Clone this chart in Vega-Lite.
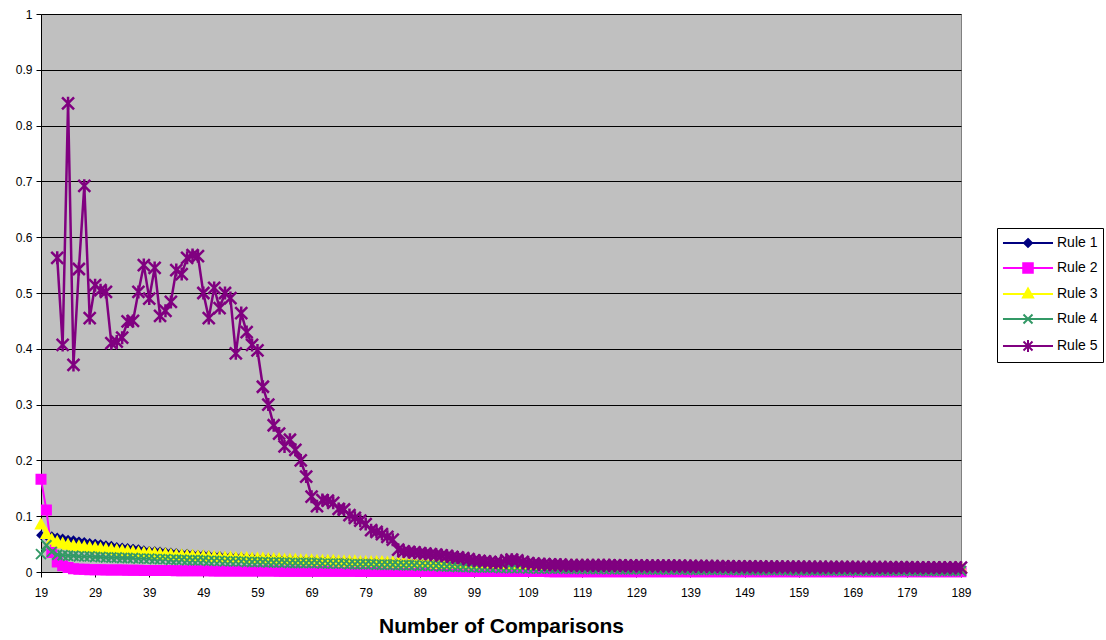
{
  "$schema": "https://vega.github.io/schema/vega-lite/v6.json",
  "width": 920,
  "height": 558,
  "autosize": {"type": "none"},
  "padding": {"left": 41, "top": 14, "right": 145, "bottom": 68},
  "background": "white",
  "config": {
    "font": "Liberation Sans",
    "view": {"fill": "#C0C0C0", "stroke": "#808080", "strokeWidth": 1},
    "axis": {
      "labelFont": "Liberation Sans", "labelColor": "black", "labelFontSize": 12,
      "tickColor": "black", "tickSize": 5, "domainColor": "black", "domainWidth": 1,
      "gridColor": "black", "gridOpacity": 1, "gridWidth": 1,
      "titleColor": "black", "titleFont": "Liberation Sans"
    },
    "legend": {
      "title": null, "orient": "none", "legendX": 956, "legendY": 214,
      "strokeColor": "black", "fillColor": "white", "padding": 5, "rowPadding": 7,
      "labelFont": "Liberation Sans", "labelFontSize": 14, "labelColor": "black",
      "labelOffset": 19, "symbolOffset": 16,
      "symbolSize": 324, "symbolStrokeWidth": 2
    }
  },
  "data": {
    "values": [
      {"n":19,"Rule 1":0.066,"Rule 2":0.166,"Rule 3":0.085,"Rule 4":0.032,"Rule 5":null},
      {"n":20,"Rule 1":0.065,"Rule 2":0.111,"Rule 3":0.068,"Rule 4":0.048,"Rule 5":null},
      {"n":21,"Rule 1":0.064,"Rule 2":0.035,"Rule 3":0.058,"Rule 4":0.036,"Rule 5":null},
      {"n":22,"Rule 1":0.062,"Rule 2":0.018,"Rule 3":0.054,"Rule 4":0.031,"Rule 5":0.563},
      {"n":23,"Rule 1":0.060,"Rule 2":0.011,"Rule 3":0.051,"Rule 4":0.030,"Rule 5":0.407},
      {"n":24,"Rule 1":0.058,"Rule 2":0.008,"Rule 3":0.049,"Rule 4":0.029,"Rule 5":0.840},
      {"n":25,"Rule 1":0.057,"Rule 2":0.006,"Rule 3":0.047,"Rule 4":0.029,"Rule 5":0.371},
      {"n":26,"Rule 1":0.055,"Rule 2":0.005,"Rule 3":0.046,"Rule 4":0.028,"Rule 5":0.543},
      {"n":27,"Rule 1":0.054,"Rule 2":0.005,"Rule 3":0.045,"Rule 4":0.028,"Rule 5":0.692},
      {"n":28,"Rule 1":0.052,"Rule 2":0.004,"Rule 3":0.044,"Rule 4":0.028,"Rule 5":0.455},
      {"n":29,"Rule 1":0.051,"Rule 2":0.004,"Rule 3":0.043,"Rule 4":0.027,"Rule 5":0.514},
      {"n":30,"Rule 1":0.050,"Rule 2":0.004,"Rule 3":0.042,"Rule 4":0.027,"Rule 5":0.505},
      {"n":31,"Rule 1":0.048,"Rule 2":0.0038,"Rule 3":0.041,"Rule 4":0.026,"Rule 5":0.502},
      {"n":32,"Rule 1":0.047,"Rule 2":0.0036,"Rule 3":0.040,"Rule 4":0.026,"Rule 5":0.410},
      {"n":33,"Rule 1":0.045,"Rule 2":0.0035,"Rule 3":0.039,"Rule 4":0.026,"Rule 5":0.413},
      {"n":34,"Rule 1":0.044,"Rule 2":0.0034,"Rule 3":0.038,"Rule 4":0.025,"Rule 5":0.420},
      {"n":35,"Rule 1":0.043,"Rule 2":0.0033,"Rule 3":0.037,"Rule 4":0.025,"Rule 5":0.449},
      {"n":36,"Rule 1":0.042,"Rule 2":0.0032,"Rule 3":0.036,"Rule 4":0.025,"Rule 5":0.450},
      {"n":37,"Rule 1":0.041,"Rule 2":0.0030,"Rule 3":0.035,"Rule 4":0.024,"Rule 5":0.502},
      {"n":38,"Rule 1":0.039,"Rule 2":0.0029,"Rule 3":0.034,"Rule 4":0.024,"Rule 5":0.550},
      {"n":39,"Rule 1":0.038,"Rule 2":0.0028,"Rule 3":0.034,"Rule 4":0.024,"Rule 5":0.490},
      {"n":40,"Rule 1":0.0375,"Rule 2":0.0027,"Rule 3":0.033,"Rule 4":0.023,"Rule 5":0.545},
      {"n":41,"Rule 1":0.037,"Rule 2":0.0026,"Rule 3":0.032,"Rule 4":0.023,"Rule 5":0.459},
      {"n":42,"Rule 1":0.036,"Rule 2":0.0025,"Rule 3":0.032,"Rule 4":0.023,"Rule 5":0.468},
      {"n":43,"Rule 1":0.035,"Rule 2":0.0025,"Rule 3":0.031,"Rule 4":0.022,"Rule 5":0.484},
      {"n":44,"Rule 1":0.034,"Rule 2":0.0024,"Rule 3":0.030,"Rule 4":0.022,"Rule 5":0.541},
      {"n":45,"Rule 1":0.033,"Rule 2":0.0023,"Rule 3":0.030,"Rule 4":0.022,"Rule 5":0.534},
      {"n":46,"Rule 1":0.033,"Rule 2":0.0023,"Rule 3":0.029,"Rule 4":0.021,"Rule 5":0.563},
      {"n":47,"Rule 1":0.032,"Rule 2":0.0022,"Rule 3":0.029,"Rule 4":0.021,"Rule 5":0.568},
      {"n":48,"Rule 1":0.031,"Rule 2":0.0022,"Rule 3":0.028,"Rule 4":0.021,"Rule 5":0.566},
      {"n":49,"Rule 1":0.031,"Rule 2":0.0021,"Rule 3":0.028,"Rule 4":0.021,"Rule 5":0.500},
      {"n":50,"Rule 1":0.030,"Rule 2":0.0021,"Rule 3":0.027,"Rule 4":0.020,"Rule 5":0.455},
      {"n":51,"Rule 1":0.029,"Rule 2":0.0020,"Rule 3":0.027,"Rule 4":0.020,"Rule 5":0.509},
      {"n":52,"Rule 1":0.029,"Rule 2":0.0020,"Rule 3":0.026,"Rule 4":0.020,"Rule 5":0.473},
      {"n":53,"Rule 1":0.028,"Rule 2":0.0019,"Rule 3":0.026,"Rule 4":0.019,"Rule 5":0.500},
      {"n":54,"Rule 1":0.028,"Rule 2":0.0019,"Rule 3":0.026,"Rule 4":0.019,"Rule 5":0.491},
      {"n":55,"Rule 1":0.027,"Rule 2":0.0018,"Rule 3":0.025,"Rule 4":0.019,"Rule 5":0.392},
      {"n":56,"Rule 1":0.027,"Rule 2":0.0018,"Rule 3":0.025,"Rule 4":0.019,"Rule 5":0.464},
      {"n":57,"Rule 1":0.026,"Rule 2":0.0018,"Rule 3":0.025,"Rule 4":0.018,"Rule 5":0.430},
      {"n":58,"Rule 1":0.026,"Rule 2":0.0017,"Rule 3":0.024,"Rule 4":0.018,"Rule 5":0.407},
      {"n":59,"Rule 1":0.025,"Rule 2":0.0017,"Rule 3":0.024,"Rule 4":0.018,"Rule 5":0.397},
      {"n":60,"Rule 1":0.025,"Rule 2":0.0016,"Rule 3":0.024,"Rule 4":0.018,"Rule 5":0.332},
      {"n":61,"Rule 1":0.025,"Rule 2":0.0016,"Rule 3":0.023,"Rule 4":0.017,"Rule 5":0.300},
      {"n":62,"Rule 1":0.024,"Rule 2":0.0016,"Rule 3":0.023,"Rule 4":0.017,"Rule 5":0.263},
      {"n":63,"Rule 1":0.024,"Rule 2":0.0015,"Rule 3":0.023,"Rule 4":0.017,"Rule 5":0.248},
      {"n":64,"Rule 1":0.023,"Rule 2":0.0015,"Rule 3":0.022,"Rule 4":0.017,"Rule 5":0.225},
      {"n":65,"Rule 1":0.023,"Rule 2":0.0015,"Rule 3":0.022,"Rule 4":0.016,"Rule 5":0.237},
      {"n":66,"Rule 1":0.023,"Rule 2":0.0014,"Rule 3":0.022,"Rule 4":0.016,"Rule 5":0.219},
      {"n":67,"Rule 1":0.022,"Rule 2":0.0014,"Rule 3":0.021,"Rule 4":0.016,"Rule 5":0.200},
      {"n":68,"Rule 1":0.022,"Rule 2":0.0014,"Rule 3":0.021,"Rule 4":0.016,"Rule 5":0.171},
      {"n":69,"Rule 1":0.022,"Rule 2":0.0013,"Rule 3":0.021,"Rule 4":0.016,"Rule 5":0.135},
      {"n":70,"Rule 1":0.021,"Rule 2":0.0013,"Rule 3":0.020,"Rule 4":0.016,"Rule 5":0.118},
      {"n":71,"Rule 1":0.021,"Rule 2":0.0013,"Rule 3":0.020,"Rule 4":0.015,"Rule 5":0.129},
      {"n":72,"Rule 1":0.021,"Rule 2":0.0013,"Rule 3":0.020,"Rule 4":0.015,"Rule 5":0.128},
      {"n":73,"Rule 1":0.021,"Rule 2":0.0012,"Rule 3":0.020,"Rule 4":0.015,"Rule 5":0.124},
      {"n":74,"Rule 1":0.020,"Rule 2":0.0012,"Rule 3":0.019,"Rule 4":0.015,"Rule 5":0.113},
      {"n":75,"Rule 1":0.020,"Rule 2":0.0012,"Rule 3":0.019,"Rule 4":0.015,"Rule 5":0.112},
      {"n":76,"Rule 1":0.020,"Rule 2":0.0012,"Rule 3":0.019,"Rule 4":0.014,"Rule 5":0.102},
      {"n":77,"Rule 1":0.019,"Rule 2":0.0012,"Rule 3":0.019,"Rule 4":0.014,"Rule 5":0.097},
      {"n":78,"Rule 1":0.019,"Rule 2":0.0011,"Rule 3":0.018,"Rule 4":0.014,"Rule 5":0.092},
      {"n":79,"Rule 1":0.019,"Rule 2":0.0011,"Rule 3":0.018,"Rule 4":0.014,"Rule 5":0.086},
      {"n":80,"Rule 1":0.019,"Rule 2":0.0011,"Rule 3":0.018,"Rule 4":0.014,"Rule 5":0.075},
      {"n":81,"Rule 1":0.019,"Rule 2":0.0011,"Rule 3":0.018,"Rule 4":0.013,"Rule 5":0.072},
      {"n":82,"Rule 1":0.018,"Rule 2":0.0011,"Rule 3":0.018,"Rule 4":0.013,"Rule 5":0.068},
      {"n":83,"Rule 1":0.018,"Rule 2":0.0010,"Rule 3":0.017,"Rule 4":0.013,"Rule 5":0.063},
      {"n":84,"Rule 1":0.018,"Rule 2":0.0010,"Rule 3":0.017,"Rule 4":0.013,"Rule 5":0.058},
      {"n":85,"Rule 1":0.018,"Rule 2":0.0010,"Rule 3":0.017,"Rule 4":0.012,"Rule 5":0.040},
      {"n":86,"Rule 1":0.017,"Rule 2":0.0010,"Rule 3":0.017,"Rule 4":0.012,"Rule 5":0.037},
      {"n":87,"Rule 1":0.017,"Rule 2":0.0010,"Rule 3":0.016,"Rule 4":0.012,"Rule 5":0.036},
      {"n":88,"Rule 1":0.017,"Rule 2":0.0010,"Rule 3":0.016,"Rule 4":0.012,"Rule 5":0.035},
      {"n":89,"Rule 1":0.017,"Rule 2":0.0009,"Rule 3":0.016,"Rule 4":0.011,"Rule 5":0.034},
      {"n":90,"Rule 1":0.017,"Rule 2":0.0009,"Rule 3":0.016,"Rule 4":0.011,"Rule 5":0.033},
      {"n":91,"Rule 1":0.016,"Rule 2":0.0009,"Rule 3":0.016,"Rule 4":0.011,"Rule 5":0.032},
      {"n":92,"Rule 1":0.016,"Rule 2":0.0009,"Rule 3":0.015,"Rule 4":0.011,"Rule 5":0.031},
      {"n":93,"Rule 1":0.016,"Rule 2":0.0009,"Rule 3":0.015,"Rule 4":0.010,"Rule 5":0.030},
      {"n":94,"Rule 1":0.016,"Rule 2":0.0009,"Rule 3":0.015,"Rule 4":0.010,"Rule 5":0.029},
      {"n":95,"Rule 1":0.016,"Rule 2":0.0009,"Rule 3":0.015,"Rule 4":0.010,"Rule 5":0.027},
      {"n":96,"Rule 1":0.016,"Rule 2":0.0008,"Rule 3":0.015,"Rule 4":0.009,"Rule 5":0.026},
      {"n":97,"Rule 1":0.015,"Rule 2":0.0008,"Rule 3":0.015,"Rule 4":0.009,"Rule 5":0.025},
      {"n":98,"Rule 1":0.015,"Rule 2":0.0008,"Rule 3":0.014,"Rule 4":0.009,"Rule 5":0.023},
      {"n":99,"Rule 1":0.015,"Rule 2":0.0008,"Rule 3":0.014,"Rule 4":0.008,"Rule 5":0.021},
      {"n":100,"Rule 1":0.015,"Rule 2":0.0008,"Rule 3":0.014,"Rule 4":0.008,"Rule 5":0.020},
      {"n":101,"Rule 1":0.015,"Rule 2":0.0008,"Rule 3":0.014,"Rule 4":0.008,"Rule 5":0.019},
      {"n":102,"Rule 1":0.015,"Rule 2":0.0008,"Rule 3":0.014,"Rule 4":0.008,"Rule 5":0.018},
      {"n":103,"Rule 1":0.015,"Rule 2":0.0008,"Rule 3":0.014,"Rule 4":0.008,"Rule 5":0.017},
      {"n":104,"Rule 1":0.014,"Rule 2":0.0007,"Rule 3":0.014,"Rule 4":0.007,"Rule 5":0.017},
      {"n":105,"Rule 1":0.014,"Rule 2":0.0007,"Rule 3":0.013,"Rule 4":0.007,"Rule 5":0.021},
      {"n":106,"Rule 1":0.014,"Rule 2":0.0007,"Rule 3":0.013,"Rule 4":0.007,"Rule 5":0.022},
      {"n":107,"Rule 1":0.014,"Rule 2":0.0007,"Rule 3":0.013,"Rule 4":0.007,"Rule 5":0.021},
      {"n":108,"Rule 1":0.014,"Rule 2":0.0007,"Rule 3":0.013,"Rule 4":0.007,"Rule 5":0.018},
      {"n":109,"Rule 1":0.014,"Rule 2":0.0007,"Rule 3":0.013,"Rule 4":0.006,"Rule 5":0.016},
      {"n":110,"Rule 1":0.014,"Rule 2":0.0007,"Rule 3":0.013,"Rule 4":0.006,"Rule 5":0.015},
      {"n":111,"Rule 1":0.0135,"Rule 2":0.0007,"Rule 3":0.013,"Rule 4":0.006,"Rule 5":0.014},
      {"n":112,"Rule 1":0.0134,"Rule 2":0.0007,"Rule 3":0.013,"Rule 4":0.006,"Rule 5":0.014},
      {"n":113,"Rule 1":0.0133,"Rule 2":0.0006,"Rule 3":0.013,"Rule 4":0.006,"Rule 5":0.013},
      {"n":114,"Rule 1":0.0132,"Rule 2":0.0006,"Rule 3":0.012,"Rule 4":0.006,"Rule 5":0.013},
      {"n":115,"Rule 1":0.0130,"Rule 2":0.0006,"Rule 3":0.012,"Rule 4":0.006,"Rule 5":0.013},
      {"n":116,"Rule 1":0.0129,"Rule 2":0.0006,"Rule 3":0.012,"Rule 4":0.0058,"Rule 5":0.012},
      {"n":117,"Rule 1":0.0128,"Rule 2":0.0006,"Rule 3":0.012,"Rule 4":0.0057,"Rule 5":0.012},
      {"n":118,"Rule 1":0.0127,"Rule 2":0.0006,"Rule 3":0.012,"Rule 4":0.0056,"Rule 5":0.012},
      {"n":119,"Rule 1":0.0126,"Rule 2":0.0006,"Rule 3":0.0119,"Rule 4":0.0055,"Rule 5":0.012},
      {"n":120,"Rule 1":0.0125,"Rule 2":0.0006,"Rule 3":0.0118,"Rule 4":0.0054,"Rule 5":0.012},
      {"n":121,"Rule 1":0.0124,"Rule 2":0.0006,"Rule 3":0.0117,"Rule 4":0.0053,"Rule 5":0.012},
      {"n":122,"Rule 1":0.0123,"Rule 2":0.0006,"Rule 3":0.0116,"Rule 4":0.0053,"Rule 5":0.012},
      {"n":123,"Rule 1":0.0122,"Rule 2":0.0005,"Rule 3":0.0115,"Rule 4":0.0052,"Rule 5":0.012},
      {"n":124,"Rule 1":0.0121,"Rule 2":0.0005,"Rule 3":0.0114,"Rule 4":0.0051,"Rule 5":0.012},
      {"n":125,"Rule 1":0.0120,"Rule 2":0.0005,"Rule 3":0.0113,"Rule 4":0.0050,"Rule 5":0.0118},
      {"n":126,"Rule 1":0.0119,"Rule 2":0.0005,"Rule 3":0.0112,"Rule 4":0.0050,"Rule 5":0.0116},
      {"n":127,"Rule 1":0.0118,"Rule 2":0.0005,"Rule 3":0.0111,"Rule 4":0.0049,"Rule 5":0.0115},
      {"n":128,"Rule 1":0.0117,"Rule 2":0.0005,"Rule 3":0.0110,"Rule 4":0.0048,"Rule 5":0.0114},
      {"n":129,"Rule 1":0.0116,"Rule 2":0.0005,"Rule 3":0.0109,"Rule 4":0.0048,"Rule 5":0.0113},
      {"n":130,"Rule 1":0.0115,"Rule 2":0.0005,"Rule 3":0.0108,"Rule 4":0.0047,"Rule 5":0.0112},
      {"n":131,"Rule 1":0.0115,"Rule 2":0.0005,"Rule 3":0.0108,"Rule 4":0.0046,"Rule 5":0.0111},
      {"n":132,"Rule 1":0.0114,"Rule 2":0.0005,"Rule 3":0.0107,"Rule 4":0.0046,"Rule 5":0.0110},
      {"n":133,"Rule 1":0.0113,"Rule 2":0.0005,"Rule 3":0.0106,"Rule 4":0.0045,"Rule 5":0.0110},
      {"n":134,"Rule 1":0.0112,"Rule 2":0.0005,"Rule 3":0.0105,"Rule 4":0.0044,"Rule 5":0.0110},
      {"n":135,"Rule 1":0.0111,"Rule 2":0.0005,"Rule 3":0.0104,"Rule 4":0.0044,"Rule 5":0.0110},
      {"n":136,"Rule 1":0.0110,"Rule 2":0.0005,"Rule 3":0.0103,"Rule 4":0.0043,"Rule 5":0.0110},
      {"n":137,"Rule 1":0.0109,"Rule 2":0.0005,"Rule 3":0.0102,"Rule 4":0.0043,"Rule 5":0.0108},
      {"n":138,"Rule 1":0.0109,"Rule 2":0.0004,"Rule 3":0.0102,"Rule 4":0.0042,"Rule 5":0.0107},
      {"n":139,"Rule 1":0.0108,"Rule 2":0.0004,"Rule 3":0.0101,"Rule 4":0.0041,"Rule 5":0.0106},
      {"n":140,"Rule 1":0.0107,"Rule 2":0.0004,"Rule 3":0.0100,"Rule 4":0.0041,"Rule 5":0.0105},
      {"n":141,"Rule 1":0.0106,"Rule 2":0.0004,"Rule 3":0.0099,"Rule 4":0.0040,"Rule 5":0.0104},
      {"n":142,"Rule 1":0.0106,"Rule 2":0.0004,"Rule 3":0.0099,"Rule 4":0.0040,"Rule 5":0.0103},
      {"n":143,"Rule 1":0.0105,"Rule 2":0.0004,"Rule 3":0.0098,"Rule 4":0.0039,"Rule 5":0.0102},
      {"n":144,"Rule 1":0.0104,"Rule 2":0.0004,"Rule 3":0.0097,"Rule 4":0.0039,"Rule 5":0.0101},
      {"n":145,"Rule 1":0.0103,"Rule 2":0.0004,"Rule 3":0.0096,"Rule 4":0.0038,"Rule 5":0.0100},
      {"n":146,"Rule 1":0.0103,"Rule 2":0.0004,"Rule 3":0.0096,"Rule 4":0.0038,"Rule 5":0.0099},
      {"n":147,"Rule 1":0.0102,"Rule 2":0.0004,"Rule 3":0.0095,"Rule 4":0.0037,"Rule 5":0.0098},
      {"n":148,"Rule 1":0.0101,"Rule 2":0.0004,"Rule 3":0.0094,"Rule 4":0.0037,"Rule 5":0.0097},
      {"n":149,"Rule 1":0.0101,"Rule 2":0.0004,"Rule 3":0.0094,"Rule 4":0.0036,"Rule 5":0.0096},
      {"n":150,"Rule 1":0.0100,"Rule 2":0.0004,"Rule 3":0.0093,"Rule 4":0.0036,"Rule 5":0.0095},
      {"n":151,"Rule 1":0.0099,"Rule 2":0.0004,"Rule 3":0.0092,"Rule 4":0.0035,"Rule 5":0.0094},
      {"n":152,"Rule 1":0.0099,"Rule 2":0.0004,"Rule 3":0.0092,"Rule 4":0.0035,"Rule 5":0.0094},
      {"n":153,"Rule 1":0.0098,"Rule 2":0.0004,"Rule 3":0.0091,"Rule 4":0.0034,"Rule 5":0.0093},
      {"n":154,"Rule 1":0.0097,"Rule 2":0.0004,"Rule 3":0.0090,"Rule 4":0.0034,"Rule 5":0.0093},
      {"n":155,"Rule 1":0.0097,"Rule 2":0.0004,"Rule 3":0.0090,"Rule 4":0.0033,"Rule 5":0.0092},
      {"n":156,"Rule 1":0.0096,"Rule 2":0.0004,"Rule 3":0.0089,"Rule 4":0.0033,"Rule 5":0.0092},
      {"n":157,"Rule 1":0.0096,"Rule 2":0.0004,"Rule 3":0.0089,"Rule 4":0.0032,"Rule 5":0.0091},
      {"n":158,"Rule 1":0.0095,"Rule 2":0.0004,"Rule 3":0.0088,"Rule 4":0.0032,"Rule 5":0.0091},
      {"n":159,"Rule 1":0.0094,"Rule 2":0.0003,"Rule 3":0.0087,"Rule 4":0.0031,"Rule 5":0.0090},
      {"n":160,"Rule 1":0.0094,"Rule 2":0.0003,"Rule 3":0.0087,"Rule 4":0.0031,"Rule 5":0.0090},
      {"n":161,"Rule 1":0.0093,"Rule 2":0.0003,"Rule 3":0.0086,"Rule 4":0.0030,"Rule 5":0.0089},
      {"n":162,"Rule 1":0.0093,"Rule 2":0.0003,"Rule 3":0.0086,"Rule 4":0.0030,"Rule 5":0.0089},
      {"n":163,"Rule 1":0.0092,"Rule 2":0.0003,"Rule 3":0.0085,"Rule 4":0.0030,"Rule 5":0.0088},
      {"n":164,"Rule 1":0.0091,"Rule 2":0.0003,"Rule 3":0.0084,"Rule 4":0.0029,"Rule 5":0.0088},
      {"n":165,"Rule 1":0.0091,"Rule 2":0.0003,"Rule 3":0.0084,"Rule 4":0.0029,"Rule 5":0.0087},
      {"n":166,"Rule 1":0.0090,"Rule 2":0.0003,"Rule 3":0.0083,"Rule 4":0.0028,"Rule 5":0.0087},
      {"n":167,"Rule 1":0.0090,"Rule 2":0.0003,"Rule 3":0.0083,"Rule 4":0.0028,"Rule 5":0.0086},
      {"n":168,"Rule 1":0.0089,"Rule 2":0.0003,"Rule 3":0.0082,"Rule 4":0.0028,"Rule 5":0.0086},
      {"n":169,"Rule 1":0.0089,"Rule 2":0.0003,"Rule 3":0.0082,"Rule 4":0.0027,"Rule 5":0.0085},
      {"n":170,"Rule 1":0.0088,"Rule 2":0.0003,"Rule 3":0.0081,"Rule 4":0.0027,"Rule 5":0.0085},
      {"n":171,"Rule 1":0.0088,"Rule 2":0.0003,"Rule 3":0.0081,"Rule 4":0.0026,"Rule 5":0.0084},
      {"n":172,"Rule 1":0.0087,"Rule 2":0.0003,"Rule 3":0.0080,"Rule 4":0.0026,"Rule 5":0.0084},
      {"n":173,"Rule 1":0.0087,"Rule 2":0.0003,"Rule 3":0.0080,"Rule 4":0.0026,"Rule 5":0.0083},
      {"n":174,"Rule 1":0.0086,"Rule 2":0.0003,"Rule 3":0.0079,"Rule 4":0.0025,"Rule 5":0.0083},
      {"n":175,"Rule 1":0.0086,"Rule 2":0.0003,"Rule 3":0.0079,"Rule 4":0.0025,"Rule 5":0.0083},
      {"n":176,"Rule 1":0.0085,"Rule 2":0.0003,"Rule 3":0.0078,"Rule 4":0.0025,"Rule 5":0.0082},
      {"n":177,"Rule 1":0.0085,"Rule 2":0.0003,"Rule 3":0.0078,"Rule 4":0.0024,"Rule 5":0.0082},
      {"n":178,"Rule 1":0.0084,"Rule 2":0.0003,"Rule 3":0.0077,"Rule 4":0.0024,"Rule 5":0.0081},
      {"n":179,"Rule 1":0.0084,"Rule 2":0.0003,"Rule 3":0.0077,"Rule 4":0.0024,"Rule 5":0.0081},
      {"n":180,"Rule 1":0.0083,"Rule 2":0.0003,"Rule 3":0.0076,"Rule 4":0.0023,"Rule 5":0.0081},
      {"n":181,"Rule 1":0.0083,"Rule 2":0.0003,"Rule 3":0.0076,"Rule 4":0.0023,"Rule 5":0.0080},
      {"n":182,"Rule 1":0.0082,"Rule 2":0.0003,"Rule 3":0.0075,"Rule 4":0.0023,"Rule 5":0.0080},
      {"n":183,"Rule 1":0.0082,"Rule 2":0.0003,"Rule 3":0.0075,"Rule 4":0.0022,"Rule 5":0.0080},
      {"n":184,"Rule 1":0.0082,"Rule 2":0.0003,"Rule 3":0.0075,"Rule 4":0.0022,"Rule 5":0.0079},
      {"n":185,"Rule 1":0.0081,"Rule 2":0.0003,"Rule 3":0.0074,"Rule 4":0.0022,"Rule 5":0.0079},
      {"n":186,"Rule 1":0.0081,"Rule 2":0.0003,"Rule 3":0.0074,"Rule 4":0.0021,"Rule 5":0.0079},
      {"n":187,"Rule 1":0.0080,"Rule 2":0.0003,"Rule 3":0.0073,"Rule 4":0.0021,"Rule 5":0.0078},
      {"n":188,"Rule 1":0.0080,"Rule 2":0.0003,"Rule 3":0.0073,"Rule 4":0.0021,"Rule 5":0.0078},
      {"n":189,"Rule 1":0.0079,"Rule 2":0.0003,"Rule 3":0.0072,"Rule 4":0.0020,"Rule 5":0.0078}
    ]
  },
  "transform": [
    {"fold": ["Rule 1", "Rule 2", "Rule 3", "Rule 4", "Rule 5"], "as": ["rule", "value"]},
    {"filter": "isValid(datum.value)"}
  ],
  "encoding": {
    "x": {
      "field": "n", "type": "quantitative",
      "scale": {"domain": [19, 189], "nice": false, "zero": false},
      "axis": {
        "values": [19, 29, 39, 49, 59, 69, 79, 89, 99, 109, 119, 129, 139, 149, 159, 169, 179, 189],
        "grid": false, "labelPadding": 10, "labelFlush": false, "labelOverlap": false,
        "title": "Number of Comparisons", "titleFontSize": 21, "titleFontWeight": "bold", "titlePadding": 17
      }
    },
    "y": {
      "field": "value", "type": "quantitative",
      "scale": {"domain": [0, 1], "nice": false},
      "axis": {
        "values": [0, 0.1, 0.2, 0.3, 0.4, 0.5, 0.6, 0.7, 0.8, 0.9, 1],
        "format": "~g", "grid": true, "labelPadding": 4, "title": null
      }
    }
  },
  "layer": [
    {
      "transform": [{"filter": "datum.rule !== 'Rule 5'"}],
      "mark": {"type": "line", "strokeWidth": 2},
      "encoding": {
        "color": {
          "field": "rule", "type": "nominal",
          "scale": {"domain": ["Rule 1", "Rule 2", "Rule 3", "Rule 4", "Rule 5"], "range": ["#000080", "#FF00FF", "#FFFF00", "#339966", "#800080"]},
          "legend": {
            "encode": {
              "symbols": {
                "update": {
                  "shape": {"signal": "datum.value === 'Rule 1' ? 'M-2.78,0H2.78M0,-0.44L0.44,0L0,0.44L-0.44,0Z' : datum.value === 'Rule 2' ? 'M-2.78,0H2.78M-0.53,-0.53H0.53V0.53H-0.53Z' : datum.value === 'Rule 3' ? 'M-2.78,0H2.78M0,-0.61L0.56,0.39H-0.56Z' : datum.value === 'Rule 4' ? 'M-2.78,0H2.78M-0.5,-0.5L0.5,0.5M-0.5,0.5L0.5,-0.5' : 'M-2.78,0H2.78M-0.5,-0.5L0.5,0.5M-0.5,0.5L0.5,-0.5M0,-0.67V0.67'"},
                  "fill": {"scale": "color", "field": "value"},
                  "stroke": {"scale": "color", "field": "value"},
                  "strokeWidth": {"value": 2},
                  "opacity": {"value": 1}
                }
              }
            }
          }
        }
      }
    },
    {
      "transform": [{"filter": "datum.rule === 'Rule 1'"}],
      "mark": {"type": "point", "shape": "M0,-0.7L0.7,0L0,0.7L-0.7,0Z", "filled": true, "fill": "#000080", "stroke": "#000080", "strokeWidth": 2, "size": 100, "opacity": 1}
    },
    {
      "transform": [{"filter": "datum.rule === 'Rule 2'"}],
      "mark": {"type": "point", "shape": "M-0.9,-0.9H0.9V0.9H-0.9Z", "filled": true, "fill": "#FF00FF", "stroke": "#FF00FF", "strokeWidth": 2, "size": 100, "opacity": 1}
    },
    {
      "transform": [{"filter": "datum.rule === 'Rule 3'"}],
      "mark": {"type": "point", "shape": "M0,-1L1,0.8H-1Z", "filled": true, "fill": "#FFFF00", "stroke": "#FFFF00", "strokeWidth": 2, "size": 100, "opacity": 1}
    },
    {
      "transform": [{"filter": "datum.rule === 'Rule 4'"}],
      "mark": {"type": "point", "shape": "M-1,-1L1,1M-1,1L1,-1", "filled": false, "stroke": "#339966", "strokeWidth": 2, "size": 100, "opacity": 1}
    },
    {
      "transform": [{"filter": "datum.rule === 'Rule 5'"}],
      "mark": {"type": "line", "strokeWidth": 2.5},
      "encoding": {
        "color": {
          "field": "rule", "type": "nominal",
          "scale": {"domain": ["Rule 1", "Rule 2", "Rule 3", "Rule 4", "Rule 5"], "range": ["#000080", "#FF00FF", "#FFFF00", "#339966", "#800080"]},
          "legend": {
            "encode": {
              "symbols": {
                "update": {
                  "shape": {"signal": "datum.value === 'Rule 1' ? 'M-2.78,0H2.78M0,-0.44L0.44,0L0,0.44L-0.44,0Z' : datum.value === 'Rule 2' ? 'M-2.78,0H2.78M-0.53,-0.53H0.53V0.53H-0.53Z' : datum.value === 'Rule 3' ? 'M-2.78,0H2.78M0,-0.61L0.56,0.39H-0.56Z' : datum.value === 'Rule 4' ? 'M-2.78,0H2.78M-0.5,-0.5L0.5,0.5M-0.5,0.5L0.5,-0.5' : 'M-2.78,0H2.78M-0.5,-0.5L0.5,0.5M-0.5,0.5L0.5,-0.5M0,-0.67V0.67'"},
                  "fill": {"scale": "color", "field": "value"},
                  "stroke": {"scale": "color", "field": "value"},
                  "strokeWidth": {"value": 2},
                  "opacity": {"value": 1}
                }
              }
            }
          }
        }
      }
    },
    {
      "transform": [{"filter": "datum.rule === 'Rule 5'"}],
      "mark": {"type": "point", "shape": "M-1.2,-1.2L1.2,1.2M-1.2,1.2L1.2,-1.2M0,-1.3V1.3", "filled": false, "stroke": "#800080", "strokeWidth": 2.5, "size": 100, "opacity": 1}
    }
  ]
}
